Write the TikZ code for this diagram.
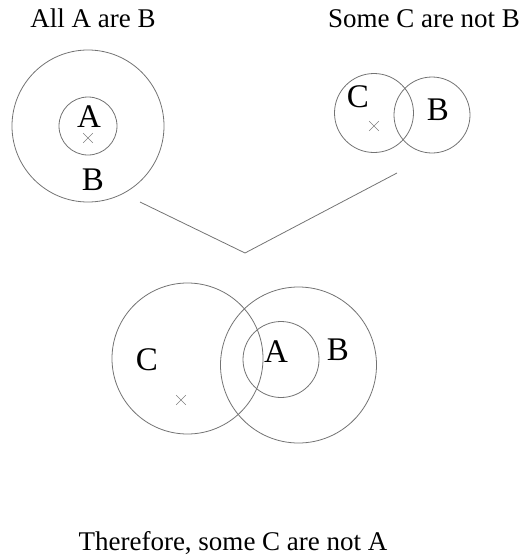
\documentclass[tikz,border=0pt]{standalone}
\usepackage{fontspec}
\setmainfont{Liberation Serif}
\usetikzlibrary{shapes.misc}
\begin{document}
\begin{tikzpicture}[x=1pt,y=-1pt,
  ring/.style={draw=black!55,line width=0.8pt,circle,inner sep=0pt},
  lbl/.style={font=\fontsize{33}{33}\selectfont,inner sep=0pt},
  ttl/.style={font=\fontsize{27}{27}\selectfont,inner sep=0pt,anchor=base},
  xmark/.style={draw=black!50,line width=0.6pt,cross out,inner sep=0pt,minimum size=9pt},
  link/.style={draw=black!55,line width=0.8pt}]
\useasboundingbox (0,0) rectangle (532,555);
% titles
\node[ttl] (t1) at (93,27) {All A are B};
\node[ttl] (t2) at (424,27) {Some C are not B};
\node[ttl] (t3) at (233,550) {Therefore, some C are not A};
% top-left
\node[ring,minimum size=152pt] (tlB) at (88,126) {};
\node[ring,minimum size=58pt] (tlA) at (88,126) {};
\node[lbl] (tlAl) at (89,117) {A};
\node[xmark] (tlx) at (88,138) {};
\node[lbl] (tlBl) at (93,180) {B};
% top-right
\node[ring,minimum size=79pt] (trC) at (374,113) {};
\node[ring,minimum size=76pt] (trB) at (432,115) {};
\node[lbl] (trCl) at (358,97) {C};
\node[xmark] (trx) at (374,126) {};
\node[lbl] (trBl) at (438,110) {B};
% connector
\coordinate (l1) at (140,202);
\coordinate (v) at (245,253);
\coordinate (l2) at (397,173);
\draw[link] (l1) -- (v) -- (l2);
% bottom
\node[ring,minimum size=151pt] (bC) at (187.5,358.5) {};
\node[ring,minimum size=156pt] (bB) at (298.5,365) {};
\node[ring,minimum size=76pt] (bA) at (281,359.5) {};
\node[lbl] (bCl) at (147,360) {C};
\node[xmark] (bx) at (181,400) {};
\node[lbl] (bAl) at (276,352) {A};
\node[lbl] (bBl) at (338,350) {B};
\end{tikzpicture}
\end{document}
